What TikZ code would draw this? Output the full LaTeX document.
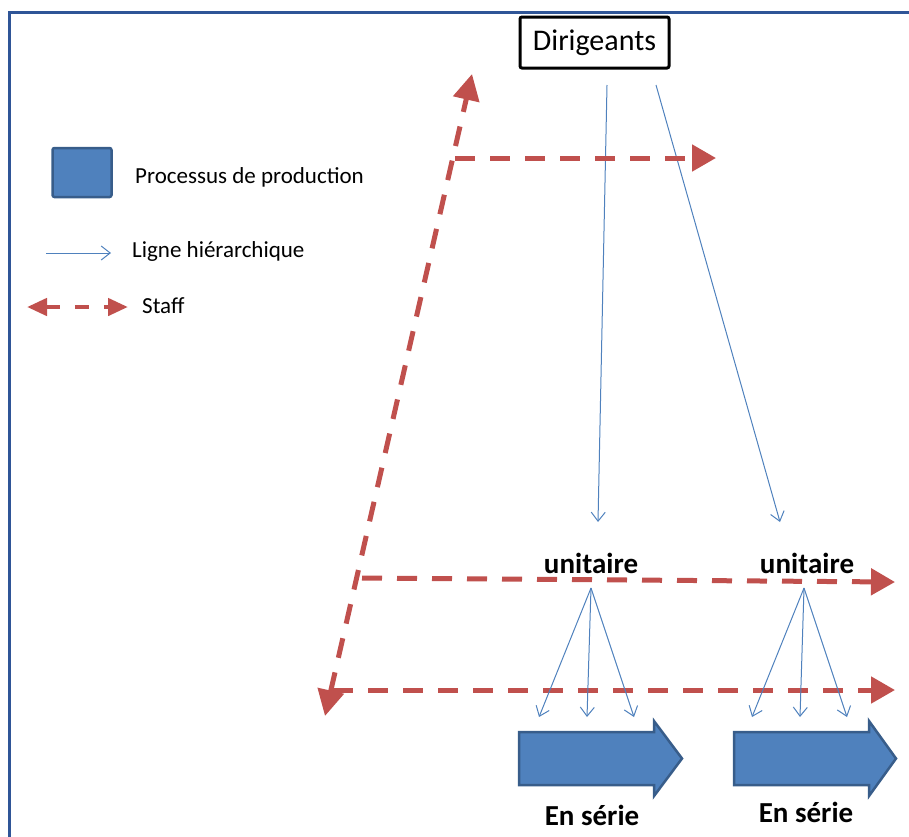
\documentclass[tikz,border=0pt]{standalone}
\usepackage{fontspec}
\setmainfont{Carlito}
\usepackage{tikz}
\usetikzlibrary{arrows.meta,calc}

\definecolor{staffred}{RGB}{192,80,77}
\definecolor{hierblue}{RGB}{79,129,189}
\definecolor{procfill}{RGB}{79,129,189}
\definecolor{procline}{RGB}{56,93,138}
\definecolor{framecol}{RGB}{47,85,151}

\begin{document}
\begin{tikzpicture}[x=1pt,y=-1pt,
      every node/.style={inner sep=0pt},
      boss/.style={draw=black,line width=3pt,rounded corners=2pt,
        minimum width=149pt,minimum height=51pt,
        font=\fontsize{30}{36}\selectfont},
      unit/.style={font=\fontsize{29}{34}\selectfont\bfseries},
      legtext/.style={anchor=west,font=\fontsize{23}{28}\selectfont},
      procbox/.style={draw=procline,fill=procfill,line width=2.5pt,
        rounded corners=2pt,minimum width=59pt,minimum height=49pt},
      proc/.style={draw=procline,fill=procfill,line width=2.5pt},
      hier/.style={draw=hierblue,line width=1pt,
        -{Straight Barb[length=9pt,width=14pt]}},
      staff/.style={draw=staffred,line width=5pt,dash pattern=on 20pt off 15pt,
        -{Triangle[length=24pt,width=26pt]}},
      staffboth/.style={staff,{Triangle[length=26pt,width=26pt]}-{Triangle[length=26pt,width=26pt]}},
      staffleg/.style={draw=staffred,line width=4.5pt,dash pattern=on 14pt off 15pt,
        {Triangle[length=20pt,width=17pt]}-{Triangle[length=20pt,width=17pt]}}]
    \useasboundingbox (0,0) rectangle (909,836);
    % frame
    \draw[framecol,line width=3pt] (9,840) -- (9,12.5) -- (912,12.5);

    % legend
    \node[procbox] (legproc) at (82,172.5) {};
    \node[legtext] (legproctext) at (135,177) {Processus de production};
    \coordinate (leghiera) at (46,253);
    \coordinate (leghierb) at (111,253);
    \draw[hier] (leghiera) -- (leghierb);
    \node[legtext] (leghiertext) at (132,251) {Ligne hiérarchique};
    \coordinate (legstaffa) at (27,307);
    \coordinate (legstaffb) at (128,307);
    \draw[staffleg] (legstaffa) -- (legstaffb);
    \node[legtext] (legstafftext) at (142,306) {Staff};

    % dirigeants and unitaires
    \node[boss] (dir) at (594.5,42.5) {Dirigeants};
    \node[unit] (unit1) at (591,563) {unitaire};
    \node[unit] (unit2) at (807,563) {unitaire};

    \coordinate (dira) at (607,85);
    \coordinate (dirb) at (656,85);
    \coordinate (unit1top) at (598,522);
    \coordinate (unit2top) at (780,522);
    \draw[hier] (dira) -- (unit1top);
    \draw[hier] (dirb) -- (unit2top);

    % staff
    \coordinate (stafflow) at (325,716);
    \coordinate (staffhigh) at (472,74);
    \draw[staffboth] (stafflow) -- (staffhigh);
    \coordinate (s1a) at (455,158);
    \coordinate (s1b) at (716,158);
    \coordinate (s2a) at (362,578);
    \coordinate (s2b) at (895,582);
    \coordinate (s3a) at (333,690);
    \coordinate (s3b) at (895,690);
    \draw[staff] (s1a) -- (s1b);
    \draw[staff] (s2a) -- (s2b);
    \draw[staff] (s3a) -- (s3b);

    % production
    \draw[proc] (519,732) -- (654,732) -- (654,721) -- (682,758.5)
      -- (654,796) -- (654,785) -- (519,785) -- cycle;
    \draw[proc] (734,732) -- (869,732) -- (869,721) -- (896,758.5)
      -- (869,796) -- (869,785) -- (734,785) -- cycle;
    \node[unit] (serie1) at (592,815) {En série};
    \node[unit] (serie2) at (806,812) {En série};

    \coordinate (u1) at (591,588);
    \coordinate (u2) at (804,588);
    \foreach \dx [count=\i] in {-52,-4,43} {
      \coordinate (p1\i) at ($(u1)+(\dx,129)$);
      \draw[hier] (u1) -- (p1\i);
      \coordinate (p2\i) at ($(u2)+(\dx,129)$);
      \draw[hier] (u2) -- (p2\i);
    }
\end{tikzpicture}
\end{document}
